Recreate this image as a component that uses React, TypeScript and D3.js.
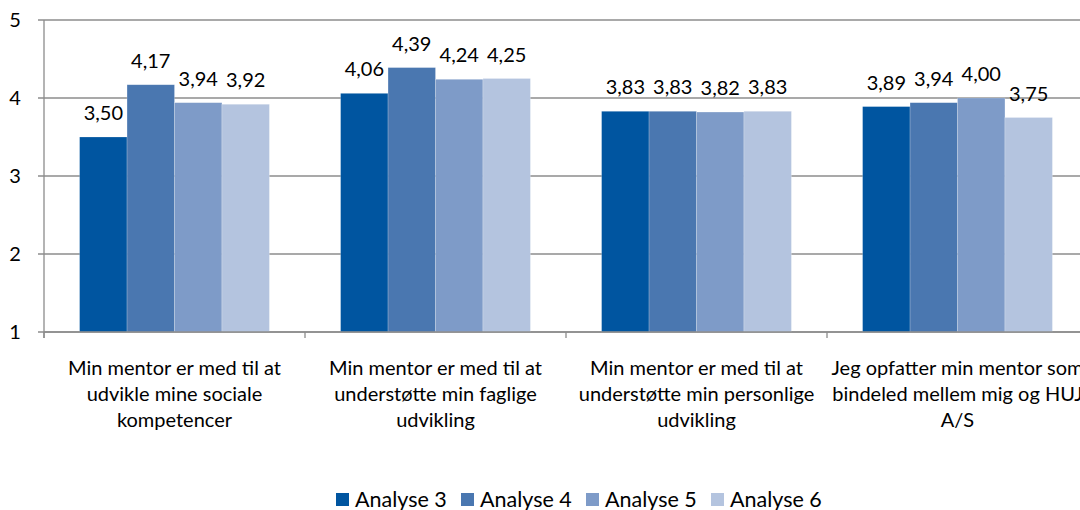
import React, { useEffect, useRef } from 'react';
import * as d3 from 'd3';

// data
const categories = [
  'Min mentor er med til at udvikle mine sociale kompetencer',
  'Min mentor er med til at understøtte min faglige udvikling',
  'Min mentor er med til at understøtte min personlige udvikling',
  'Jeg opfatter min mentor som bindeled mellem mig og HUJ A/S',
];
const categoryLines = [
  ['Min mentor er med til at', 'udvikle mine sociale', 'kompetencer'],
  ['Min mentor er med til at', 'understøtte min faglige', 'udvikling'],
  ['Min mentor er med til at', 'understøtte min personlige', 'udvikling'],
  ['Jeg opfatter min mentor som', 'bindeled mellem mig og HUJ', 'A/S'],
];
const seriesNames = ['Analyse 3', 'Analyse 4', 'Analyse 5', 'Analyse 6'];
const analyse3 = [3.5, 4.06, 3.83, 3.89];
const analyse4 = [4.17, 4.39, 3.83, 3.94];
const analyse5 = [3.94, 4.24, 3.82, 4.0];
const analyse6 = [3.92, 4.25, 3.83, 3.75];
const seriesValues = [analyse3, analyse4, analyse5, analyse6];
const colors = ['#0055a0', '#4a77b0', '#7e9bc8', '#b4c4df'];
const yTicks = [1, 2, 3, 4, 5];

const FONT = 'Lato, "Open Sans", sans-serif';

const App = () => {
  const ref = useRef<SVGSVGElement>(null);

  useEffect(() => {
    const svg = d3.select(ref.current);
    svg.selectAll('*').remove();

    const width = 1080;
    const left = 44;
    const top = 20;
    const bottom = 332;

    const x = d3.scaleBand<string>().domain(categories).range([left, left + 4 * 261]).padding(0);
    const xs = d3.scaleBand<string>().domain(seriesNames).range([0, x.bandwidth()])
      .paddingInner(0).paddingOuter(0.75);
    const y = d3.scaleLinear().domain([1, 5]).range([bottom, top]);

    // gridlines + y ticks
    const grid = svg.append('g');
    grid.selectAll('line.grid')
      .data(yTicks)
      .enter().append('line')
      .attr('x1', left - 6)
      .attr('x2', width)
      .attr('y1', d => y(d))
      .attr('y2', d => y(d))
      .attr('stroke', '#8c8c8c')
      .attr('stroke-width', 1.3);

    grid.selectAll('text')
      .data(yTicks)
      .enter().append('text')
      .attr('x', 15)
      .attr('y', d => y(d) + 7)
      .attr('text-anchor', 'middle')
      .style('font-family', FONT)
      .style('font-size', '20px')
      .attr('fill', '#000')
      .text(d => d);

    // bars
    categories.forEach((c, ci) => {
      const g = svg.append('g').attr('transform', `translate(${x(c)},0)`);
      seriesNames.forEach((s, si) => {
        const v = seriesValues[si][ci];
        g.append('rect')
          .attr('x', xs(s)!)
          .attr('y', y(v))
          .attr('width', xs.bandwidth())
          .attr('height', y(1) - y(v))
          .attr('fill', colors[si])
          .attr('stroke', '#ffffff')
          .attr('stroke-opacity', 0.35)
          .attr('stroke-width', 0.6);
        g.append('text')
          .attr('x', xs(s)! + xs.bandwidth() / 2)
          .attr('y', y(v) - 17)
          .attr('text-anchor', 'middle')
          .style('font-family', FONT)
          .style('font-size', '20px')
          .attr('fill', '#000')
          .text(d3.format('.2f')(v).replace('.', ','));
      });
    });

    // axes lines
    svg.append('line')
      .attr('x1', left).attr('x2', left)
      .attr('y1', top).attr('y2', bottom + 6)
      .attr('stroke', '#8c8c8c').attr('stroke-width', 1.3);
    svg.append('line')
      .attr('x1', left).attr('x2', width)
      .attr('y1', bottom).attr('y2', bottom)
      .attr('stroke', '#8c8c8c').attr('stroke-width', 1.3);
    svg.selectAll('line.xtick')
      .data(categories)
      .enter().append('line')
      .attr('x1', d => x(d)!)
      .attr('x2', d => x(d)!)
      .attr('y1', bottom)
      .attr('y2', bottom + 6)
      .attr('stroke', '#8c8c8c').attr('stroke-width', 1.3);

    // category labels
    categories.forEach((c, ci) => {
      const t = svg.append('text')
        .attr('text-anchor', 'middle')
        .style('font-family', FONT)
        .style('font-size', '20px')
        .attr('fill', '#000');
      categoryLines[ci].forEach((line, li) => {
        t.append('tspan')
          .attr('x', x(c)! + x.bandwidth() / 2)
          .attr('y', 375 + li * 26)
          .text(line);
      });
    });

    // legend
    const legend = svg.append('g').attr('transform', 'translate(336,493)');
    seriesNames.forEach((s, i) => {
      const item = legend.append('g').attr('transform', `translate(${i * 125},0)`);
      item.append('rect').attr('width', 13).attr('height', 13).attr('fill', colors[i]);
      item.append('text')
        .attr('x', 19)
        .attr('y', 13.5)
        .style('font-family', FONT)
        .style('font-size', '21.5px')
        .attr('fill', '#000')
        .text(s);
    });
  }, []);

  return (
    <svg ref={ref} width={1080} height={510}
      style={{ position: 'absolute', left: 0, top: 0, background: '#fff' }} />
  );
};

export default App;
